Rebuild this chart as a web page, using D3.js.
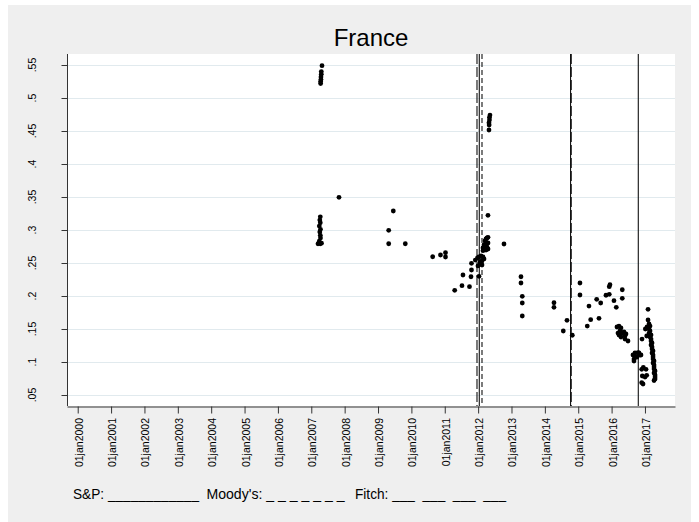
<!DOCTYPE html>
<html><head><meta charset="utf-8">
<script src="https://cdn.jsdelivr.net/npm/d3@7"></script>
<style>
body{margin:0;background:#fff}
svg{display:block}
text{font-family:"Liberation Sans",Arial,Helvetica,sans-serif;fill:#000}
</style>
</head><body>
<svg id="c" width="699" height="522"></svg>
<script>
const chartTitle = "France";
const xTickYears = [2000,2001,2002,2003,2004,2005,2006,2007,2008,2009,2010,2011,2012,2013,2014,2015,2016,2017];
const xTickLabels = xTickYears.map(y => "01jan" + y);
const yTickValues = [0.05,0.10,0.15,0.20,0.25,0.30,0.35,0.40,0.45,0.50,0.55];

// observation dates (decimal years) and values
const pointYears = [
 2007.321,2007.30,2007.30,2007.29,2007.29,2007.28,2007.28,
 2007.270,2007.255,2007.270,2007.240,2007.276,2007.255,2007.270,2007.276,2007.240,2007.201,2007.270,2007.306,
 2007.830,
 2009.320,2009.320,2009.458,2009.817,
 2010.638,2010.872,2011.022,2011.022,
 2011.298,2011.516,2011.546,2011.741,2011.786,2011.801,2011.801,2011.915,
 2012.026,
 2012.026,2012.086,2012.146,2012.056,2012.116,2012.176,2011.996,2012.056,2012.116,2011.980,
 2012.355,2012.340,2012.340,2012.325,2012.330,2012.325,
 2012.295,
 2012.146,2012.176,2012.206,2012.236,2012.266,2012.296,2012.296,2012.296,2012.206,2012.176,2012.236,2012.266,2012.236,2012.146,
 2012.775,
 2013.284,2013.284,2013.323,2013.323,2013.323,
 2014.273,2014.273,
 2014.552,2014.663,2014.822,
 2015.052,2015.052,
 2015.271,2015.322,2015.373,
 2015.553,2015.622,2015.673,
 2015.832,2015.930,2015.930,2015.951,
 2016.071,2016.140,
 2016.320,2016.320,
 2016.161,2016.221,2016.281,2016.191,2016.251,2016.311,2016.371,2016.281,2016.401,2016.431,2016.491,2016.401,2016.221,
 2016.641,2016.701,2016.761,2016.821,2016.851,2016.671,2016.731,2016.671,2016.881,2016.791,
 2016.912,
 2016.902,2016.951,2017.032,2017.002,2016.902,2016.942,2017.052,2016.920,
 2017.092,2017.092,2017.122,2017.062,2017.122,2017.152,2017.122,2017.182,2017.152,2017.182,2017.182,2017.212,2017.182,2017.212,2017.212,2017.242,2017.212,2017.242,2017.242,2017.242,2017.272,2017.242,2017.272,2017.272,2017.272,2017.302,2017.272,2017.302,2017.302,2017.302,2017.272,
 2017.012,2017.052,2017.152
];
const pointValues = [
 0.549,0.540,0.536,0.532,0.528,0.525,0.522,
 0.320,0.315,0.311,0.306,0.301,0.297,0.292,0.288,0.283,0.279,0.279,0.280,
 0.3495,
 0.2995,0.2792,0.3288,0.2792,
 0.2595,0.2621,0.2656,0.2591,
 0.2086,0.2156,0.2318,0.2141,0.2292,0.2394,0.2495,0.2545,
 0.2298,
 0.2591,0.2606,0.2591,0.2515,0.2530,0.2561,0.2455,0.2485,0.2470,0.2576,
 0.4742,0.4707,0.4667,0.4626,0.4591,0.4515,
 0.3223,
 0.2686,0.2773,0.2833,0.2864,0.2880,0.2889,0.2803,0.2712,0.2712,0.2742,0.2773,0.2742,0.2697,0.2727,
 0.2788,
 0.2292,0.2197,0.1995,0.1894,0.1697,
 0.1898,0.1829,
 0.1470,0.1632,0.1405,
 0.2197,0.2015,
 0.1545,0.1848,0.1641,
 0.1950,0.1662,0.1894,
 0.2011,0.2026,0.2141,0.2171,
 0.1929,0.1829,
 0.2095,0.1965,
 0.1530,0.1545,0.1515,0.1439,0.1470,0.1439,0.1455,0.1379,0.1394,0.1424,0.1318,0.1348,0.1409,
 0.1106,0.1136,0.1076,0.1136,0.1106,0.1045,0.1076,0.1015,0.1106,0.1141,
 0.1348,
 0.0889,0.0920,0.0889,0.0773,0.0686,0.0667,0.0798,0.0788,
 0.1798,0.1636,0.1576,0.1530,0.1500,0.1470,0.1439,0.1409,0.1379,0.1348,0.1318,0.1288,0.1258,0.1227,0.1197,0.1167,0.1136,0.1106,0.1076,0.1045,0.1015,0.0985,0.0955,0.0924,0.0894,0.0864,0.0833,0.0803,0.0773,0.0742,0.0720,
 0.1500,0.1394,0.1545
];

// rating-agency events (decimal years)
const spEvents = [2012.035, 2014.770, 2016.800];
const moodysEvents = [2012.116];
const fitchEvents = [2011.966, 2014.790];

const legendParts = ["S&P: ____________", "Moody's: _ _ _ _ _ _ _", "Fitch: ___  ___  ___  ___"];

const W = 699, H = 522;
const plot = {left: 67, right: 675, top: 54, bottom: 406};

const svg = d3.select("#c");
svg.append("rect").attr("x",0).attr("y",0).attr("width",W).attr("height",H).attr("fill","#ffffff");
svg.append("rect").attr("x",8).attr("y",5).attr("width",683).attr("height",517).attr("fill","#efefef");
svg.append("rect").attr("x",plot.left).attr("y",plot.top)
  .attr("width",plot.right-plot.left).attr("height",plot.bottom-plot.top).attr("fill","#ffffff");

const x = d3.scaleLinear().domain([1999.679, 2017.90]).range([plot.left, plot.right]);
const y = d3.scaleLinear().domain([0.05, 0.55]).range([395, 65]);

// grid
svg.append("g").selectAll("line").data(yTickValues).join("line")
  .attr("x1",plot.left).attr("x2",plot.right)
  .attr("y1",d=>Math.round(y(d))+0.5).attr("y2",d=>Math.round(y(d))+0.5)
  .attr("stroke","#e1eaee").attr("stroke-width",1);

// event lines
svg.append("clipPath").attr("id","pc").append("rect")
  .attr("x",plot.left).attr("y",plot.top).attr("width",plot.right-plot.left).attr("height",plot.bottom-plot.top);
const ev = svg.append("g").attr("clip-path","url(#pc)");
function evLines(data, dash){
  ev.append("g").selectAll("line").data(data).join("line")
    .attr("x1",d=>x(d)).attr("x2",d=>x(d))
    .attr("y1",plot.top).attr("y2",plot.bottom)
    .attr("stroke","#111").attr("stroke-width",1.1)
    .attr("stroke-dasharray",dash);
}
evLines(spEvents, null);
evLines(moodysEvents, "5,3");
evLines(fitchEvents, "10,3");

// points
svg.append("g").selectAll("circle").data(pointYears.map((t,i)=>[t,pointValues[i]])).join("circle")
  .attr("cx",d=>x(d[0])).attr("cy",d=>y(d[1])).attr("r",2.4).attr("fill","#000");

// y axis
const yAxis = d3.axisLeft(y).tickValues(yTickValues).tickSize(6).tickSizeOuter(0).tickFormat("");
const gy = svg.append("g").attr("transform",`translate(${plot.left+0.5},0)`).call(yAxis);
gy.select(".domain").remove();
gy.selectAll(".tick line").attr("stroke","#333");
svg.append("line").attr("x1",plot.left+0.5).attr("x2",plot.left+0.5).attr("y1",plot.top).attr("y2",plot.bottom)
  .attr("stroke","#333").attr("stroke-width",1);
const fmtY = d => d3.format(".2f")(d).replace(/^0/,"").replace(/0$/,"");
svg.append("g").selectAll("text").data(yTickValues).join("text")
  .attr("transform",d=>`translate(32,${y(d)}) rotate(-90)`)
  .attr("text-anchor","middle").attr("dominant-baseline","central")
  .attr("font-size","10.5px").text(fmtY);

// x axis
const xAxis = d3.axisBottom(x).tickValues(xTickYears).tickSize(7).tickSizeOuter(0).tickFormat("");
const gx = svg.append("g").attr("transform",`translate(0,${plot.bottom+0.5})`).call(xAxis);
gx.select(".domain").attr("stroke","#333");
gx.selectAll(".tick line").attr("stroke","#333");
svg.append("g").selectAll("text").data(xTickYears).join("text")
  .attr("transform",d=>`translate(${x(d)+1},418) rotate(-90)`)
  .attr("text-anchor","end").attr("dominant-baseline","central")
  .attr("font-size","10.5px").text((d,i)=>xTickLabels[i]);

// title
svg.append("text").attr("x",(plot.left+plot.right)/2).attr("y",46)
  .attr("text-anchor","middle").attr("font-size","24px").text(chartTitle);

// legend note
const legX = [73, 206.5, 355];
const legLen = [126, 138, 151];
svg.append("g").selectAll("text").data(legendParts).join("text")
  .attr("x",(d,i)=>legX[i]).attr("y",499).attr("xml:space","preserve")
  .attr("textLength",(d,i)=>legLen[i]).attr("lengthAdjust","spacingAndGlyphs")
  .style("white-space","pre").attr("font-size","14px").text(d=>d);
</script>
</body></html>
